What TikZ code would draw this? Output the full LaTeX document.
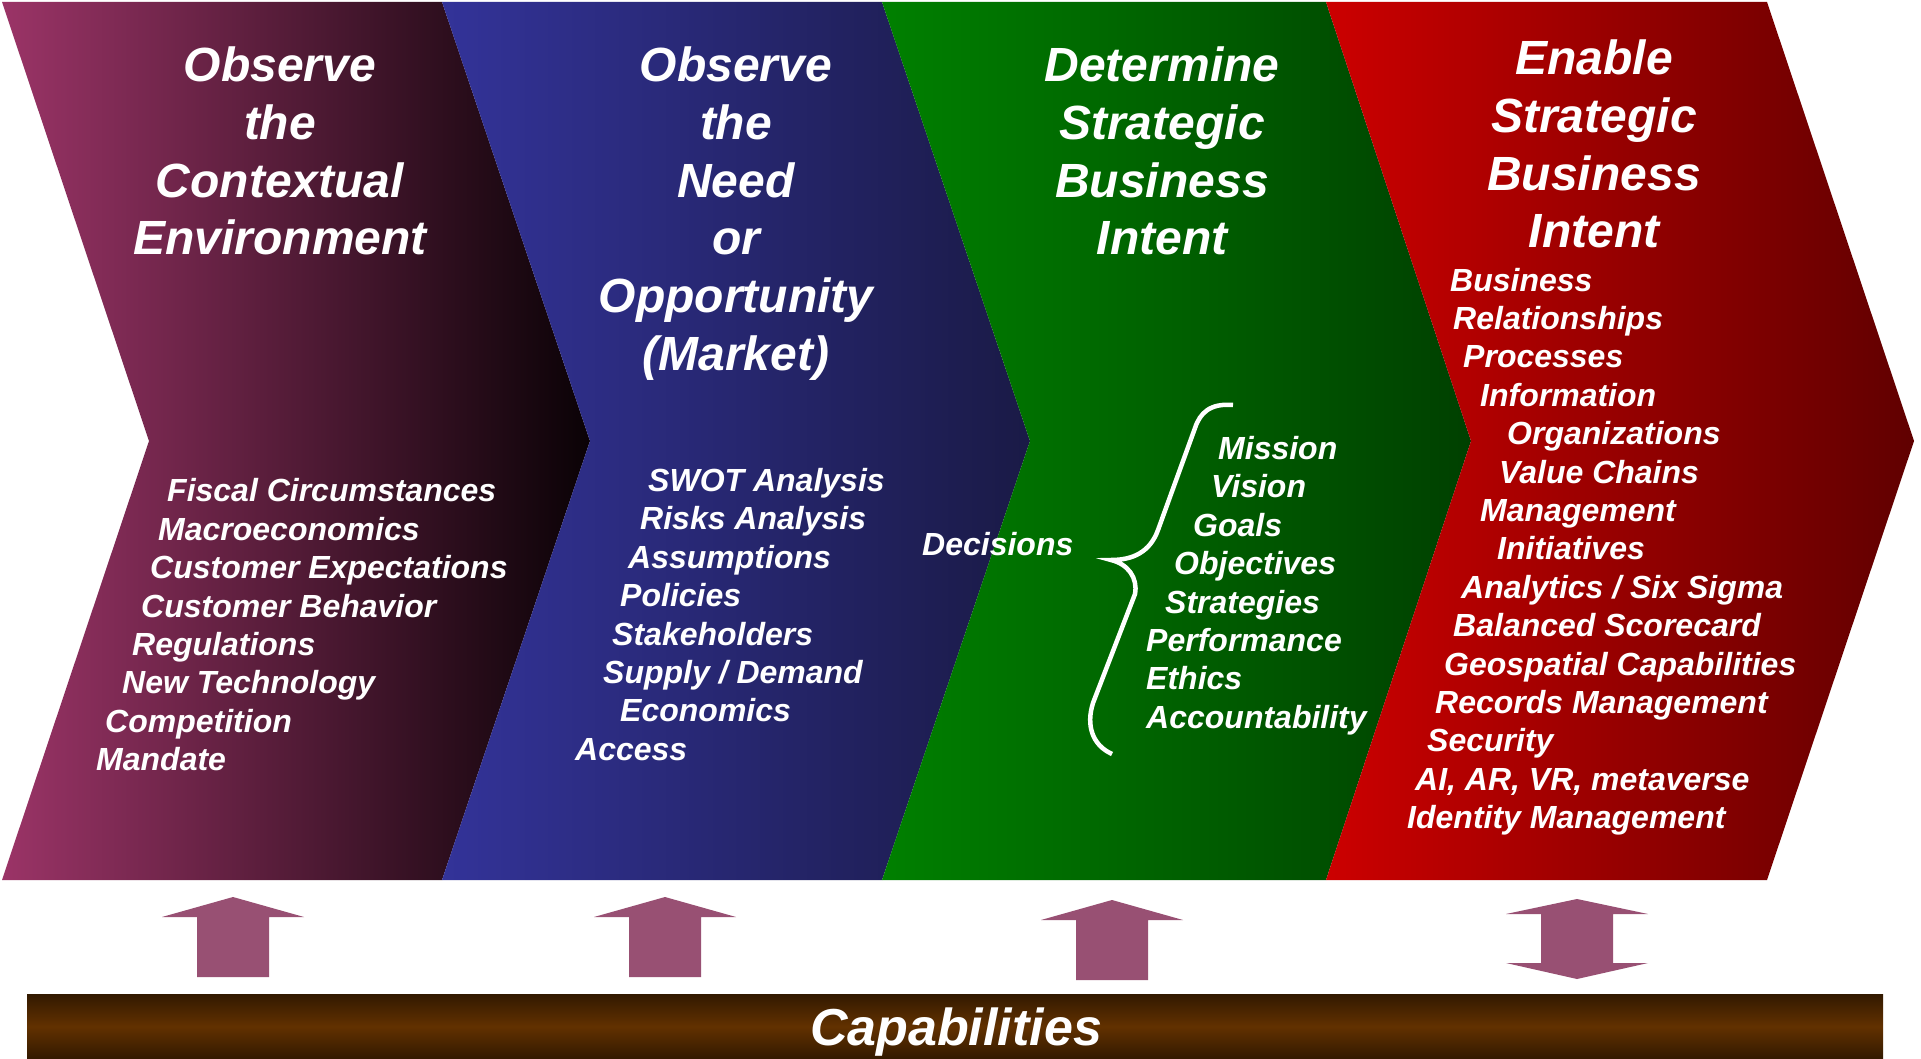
\documentclass[tikz,border=0pt]{standalone}
\usepackage{fontspec}
\setmainfont{Liberation Sans}
\begin{document}
\begin{tikzpicture}[x=1pt,y=-1pt,
  headline/.style={text=white,inner sep=0pt,anchor=base,
    font=\bfseries\itshape\fontsize{48}{57.6}\selectfont},
  item/.style={text=white,inner sep=0pt,anchor=base west,
    font=\bfseries\itshape\fontsize{32}{38.4}\selectfont},
  barlabel/.style={text=white,inner sep=0pt,anchor=base,
    font=\bfseries\itshape\fontsize{52}{60}\selectfont},
  arrowfill/.style={fill={rgb,255:red,152;green,80;blue,115}},
  uparrow/.pic={\fill[arrowfill] (0,0) -- (71,20) -- (36,20) -- (36,80)
     -- (-36,80) -- (-36,20) -- (-71,20) -- cycle;},
  duparrow/.pic={\fill[arrowfill] (0,0) -- (71,15) -- (36,15) -- (36,64)
     -- (71,64) -- (0,80) -- (-71,64) -- (-36,64) -- (-36,15) -- (-71,15) -- cycle;},
  brace/.style={draw=white,line width=4.5pt}
]
\useasboundingbox[fill=white] (0,0) rectangle (1921,1059);

% four chevrons, each shaded from left to right
\path[left color={rgb,255:red,155;green,52;blue,103},right color={rgb,255:red,10;green,2;blue,6}]
  (2,2) -- (442,2) -- (590,441) -- (442,880) -- (2,880) -- (149,441) -- cycle;
\path[left color={rgb,255:red,51;green,51;blue,153},right color={rgb,255:red,26;green,26;blue,70}]
  (442,2) -- (882,2) -- (1030,441) -- (882,880) -- (442,880) -- (590,441) -- cycle;
\path[left color={rgb,255:red,0;green,128;blue,0},right color={rgb,255:red,0;green,64;blue,0}]
  (882,2) -- (1326,2) -- (1471,441) -- (1326,880) -- (882,880) -- (1030,441) -- cycle;
\path[left color={rgb,255:red,204;green,0;blue,0},right color={rgb,255:red,96;green,0;blue,0}]
  (1326,2) -- (1767,2) -- (1914,441) -- (1767,880) -- (1326,880) -- (1471,441) -- cycle;

% headings
\foreach \t [count=\i] in {Observe,the,Contextual,Environment}
  \node[headline] (h1-\i) at (280,{82+57.6*(\i-1)}) {\t};
\foreach \t [count=\i] in {Observe,the,Need,or,Opportunity,(Market)}
  \node[headline] (h2-\i) at (736,{82+57.6*(\i-1)}) {\t};
\foreach \t [count=\i] in {Determine,Strategic,Business,Intent}
  \node[headline] (h3-\i) at (1162,{82+57.6*(\i-1)}) {\t};
\foreach \t [count=\i] in {Enable,Strategic,Business,Intent}
  \node[headline] (h4-\i) at (1594,{75+57.6*(\i-1)}) {\t};

% context items
\node[item] (a1) at (167,501.8) {Fiscal Circumstances};
\node[item] (a2) at (158,540.2) {Macroeconomics};
\node[item] (a3) at (150,578.6) {Customer Expectations};
\node[item] (a4) at (141,617.0) {Customer Behavior};
\node[item] (a5) at (132,655.4) {Regulations};
\node[item] (a6) at (122,693.8) {New Technology};
\node[item] (a7) at (105,732.2) {Competition};
\node[item] (a8) at (96,770.6) {Mandate};

% market items
\node[item] (b1) at (648,491.5) {SWOT Analysis};
\node[item] (b2) at (640,529.9) {Risks Analysis};
\node[item] (b3) at (628,568.3) {Assumptions};
\node[item] (b4) at (620,606.7) {Policies};
\node[item] (b5) at (612,645.1) {Stakeholders};
\node[item] (b6) at (603,683.5) {Supply / Demand};
\node[item] (b7) at (620,721.9) {Economics};
\node[item] (b8) at (575,760.3) {Access};

% decisions and their scope
\node[item] (dec) at (922,555.5) {Decisions};
\draw[brace] (1233,405) .. controls (1210,403) and (1200,413) .. (1195,428)
  -- (1158,530) .. controls (1150,552) and (1133,560) .. (1111,560)
  .. controls (1128,564) and (1138,578) .. (1135,594)
  -- (1093,703) .. controls (1086,725) and (1092,745) .. (1112,754);
\node[item] (c1) at (1218,459.5) {Mission};
\node[item] (c2) at (1211,497.9) {Vision};
\node[item] (c3) at (1193,536.3) {Goals};
\node[item] (c4) at (1174,574.7) {Objectives};
\node[item] (c5) at (1165,613.1) {Strategies};
\node[item] (c6) at (1146,651.5) {Performance};
\node[item] (c7) at (1146,689.9) {Ethics};
\node[item] (c8) at (1146,728.3) {Accountability};

% enabling items
\node[item] (d1) at (1450,291.0) {Business};
\node[item] (d2) at (1453,329.4) {Relationships};
\node[item] (d3) at (1463,367.8) {Processes};
\node[item] (d4) at (1480,406.2) {Information};
\node[item] (d5) at (1507,444.6) {Organizations};
\node[item] (d6) at (1499,483.0) {Value Chains};
\node[item] (d7) at (1480,521.4) {Management};
\node[item] (d8) at (1497,559.8) {Initiatives};
\node[item] (d9) at (1461,598.2) {Analytics / Six Sigma};
\node[item] (d10) at (1453,636.6) {Balanced Scorecard};
\node[item] (d11) at (1444,675.0) {Geospatial Capabilities};
\node[item] (d12) at (1435,713.4) {Records Management};
\node[item] (d13) at (1427,751.8) {Security};
\node[item] (d14) at (1415,790.2) {AI, AR, VR, metaverse};
\node[item] (d15) at (1407,828.6) {Identity Management};

% capabilities bar
\path[top color={rgb,255:red,50;green,25;blue,0},bottom color={rgb,255:red,50;green,25;blue,0},
      middle color={rgb,255:red,98;green,49;blue,0}]
  (27,994) rectangle (1883,1059);
\node[barlabel] (cap) at (956,1045) {Capabilities};

% block arrows from the bar
\pic at (233,897) {uparrow};
\pic at (665,897) {uparrow};
\pic at (1112,900) {uparrow};
\pic at (1577,899) {duparrow};
\end{tikzpicture}
\end{document}
